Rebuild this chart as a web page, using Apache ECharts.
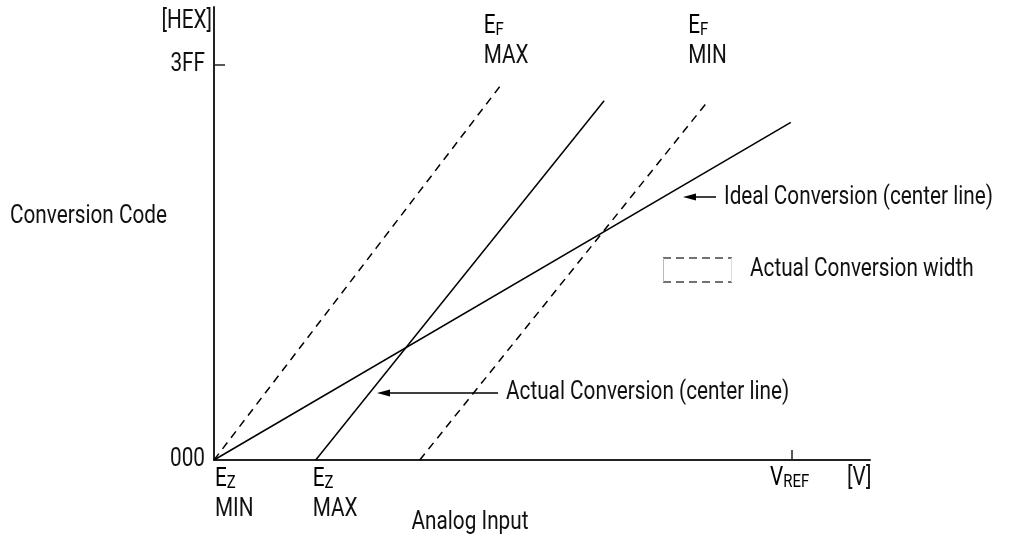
<!DOCTYPE html>
<html>
<head>
<meta charset="utf-8">
<script src="https://cdn.jsdelivr.net/npm/echarts@6/dist/echarts.min.js"></script>
<style>
html,body{margin:0;padding:0;background:#fff;}
#chart{width:1010px;height:541px;}
</style>
</head>
<body>
<div id="chart"></div>
<script>
// ---- data (x: fraction of VREF, y: conversion code, decimal) ----
const xMax = 1.135;
const yMax = 1173;
const yTickValues = [0, 1023];
const yTickLabels = ['000', '3FF'];
const vref = 1.0;
const ezMin = 0.0;
const ezMax = 0.176;
const idealLine = [[0, 0], [0.998, 874]];
const efMaxLine = [[0, 0], [0.4995, 977]];
const actualLine = [[0.176, 0], [0.675, 930]];
const efMinLine = [[0.356, 0], [0.855, 930]];

const FONT = "'Roboto', 'Liberation Sans', sans-serif";
const TXT = '#111';
const FS = 25;
const SX = 0.83; // horizontal condensing to mimic a narrow typeface

const chart = echarts.init(document.getElementById('chart'), null, {renderer: 'canvas'});

function lineSeries(name, data, dashed) {
  return {
    name: name, type: 'line', data: data, showSymbol: false, symbol: 'none',
    silent: true, animation: false,
    lineStyle: {color: '#000', width: 1.5, type: dashed ? [8, 6] : 'solid'}
  };
}

chart.setOption({
  animation: false,
  backgroundColor: '#fff',
  grid: {left: 214, right: 140, top: 7, bottom: 81, containLabel: false},
  xAxis: {
    type: 'value', min: 0, max: xMax,
    axisLine: {show: true, lineStyle: {color: '#222', width: 2}},
    axisTick: {show: true, inside: true, length: 10, customValues: [vref], lineStyle: {color: '#222', width: 1.5}},
    axisLabel: {show: false},
    splitLine: {show: false}
  },
  yAxis: {
    type: 'value', min: 0, max: yMax,
    axisLine: {show: true, lineStyle: {color: '#222', width: 2}},
    axisTick: {show: true, inside: true, length: 11, customValues: [1023], lineStyle: {color: '#222', width: 1.5}},
    axisLabel: {show: false},
    splitLine: {show: false}
  },
  series: [
    lineSeries('Ideal Conversion', idealLine, false),
    lineSeries('EF MAX', efMaxLine, true),
    lineSeries('Actual Conversion', actualLine, false),
    lineSeries('EF MIN', efMinLine, true)
  ]
});

function px(x, y) { return chart.convertToPixel({gridIndex: 0}, [x, y]); }

const rich = {
  e: {fontFamily: FONT, fontSize: FS, color: TXT, lineHeight: 25},
  s: {fontFamily: FONT, fontSize: 18, color: TXT, lineHeight: 12, verticalAlign: 'bottom'}
};

function txt(x, y, s, align) {
  return {type: 'text', x: x, y: y, scaleX: SX, silent: true,
    style: {text: s, fill: TXT, font: FS + "px " + FONT, align: align || 'left', verticalAlign: 'middle'}};
}
function sub(x, y, main, subs, align) {
  return {type: 'text', x: x, y: y, scaleX: SX, silent: true,
    style: {text: '{e|' + main + '}{s|' + subs + '}', rich: rich, align: align || 'left', verticalAlign: 'middle'}};
}

const p0 = px(ezMin, 0), pz = px(ezMax, 0), pv = px(vref, 0);
const pMaxTop = px(efMaxLine[1][0], efMaxLine[1][1]);
const pMinTop = px(efMinLine[1][0], efMinLine[1][1]);

const graphics = [
  txt(212, 22, '[HEX]', 'right'),
  txt(10, 217, 'Conversion Code'),
  sub(pMaxTop[0] - 19, 27, 'E', 'F'),
  txt(pMaxTop[0] - 19, 57, 'MAX'),
  sub(pMinTop[0] - 20, 27, 'E', 'F'),
  txt(pMinTop[0] - 20, 57, 'MIN'),
  sub(p0[0] + 1, 480, 'E', 'Z'),
  txt(p0[0] + 1, 510, 'MIN'),
  sub(pz[0] - 3, 480, 'E', 'Z'),
  txt(pz[0] - 3, 510, 'MAX'),
  sub(pv[0] - 22, 479, 'V', 'REF'),
  txt(847, 479, '[V]'),
  txt(470, 523, 'Analog Input', 'center'),
  // Ideal conversion annotation
  {type: 'line', silent: true, shape: {x1: 716, y1: 197, x2: 692, y2: 197}, style: {stroke: '#000', lineWidth: 1.5}},
  {type: 'polygon', silent: true, shape: {points: [[683, 197], [696, 193.5], [696, 200.5]]}, style: {fill: '#000'}},
  txt(724, 198, 'Ideal Conversion (center line)'),
  // Actual conversion annotation
  {type: 'line', silent: true, shape: {x1: 498, y1: 393, x2: 386, y2: 393}, style: {stroke: '#000', lineWidth: 1.5}},
  {type: 'polygon', silent: true, shape: {points: [[377, 393], [390, 389.5], [390, 396.5]]}, style: {fill: '#000'}},
  txt(506, 393, 'Actual Conversion (center line)'),
  // legend box
  {type: 'line', silent: true, shape: {x1: 663, y1: 258, x2: 732, y2: 258}, style: {stroke: '#444', lineWidth: 1.5, lineDash: [8, 5]}},
  {type: 'line', silent: true, shape: {x1: 663, y1: 282, x2: 732, y2: 282}, style: {stroke: '#444', lineWidth: 1.5, lineDash: [8, 5]}},
  {type: 'line', silent: true, shape: {x1: 663.5, y1: 258, x2: 663.5, y2: 282}, style: {stroke: '#bbb', lineWidth: 1}},
  {type: 'line', silent: true, shape: {x1: 731.5, y1: 258, x2: 731.5, y2: 282}, style: {stroke: '#ddd', lineWidth: 1}},
  txt(750, 270, 'Actual Conversion width')
];

// y tick labels drawn from the tick arrays through the axis scale
yTickValues.forEach(function (v, i) {
  const p = px(0, v);
  graphics.push(txt(p[0] - 9, p[1], yTickLabels[i], 'right'));
});

chart.setOption({graphic: {elements: graphics}});
</script>
</body>
</html>
